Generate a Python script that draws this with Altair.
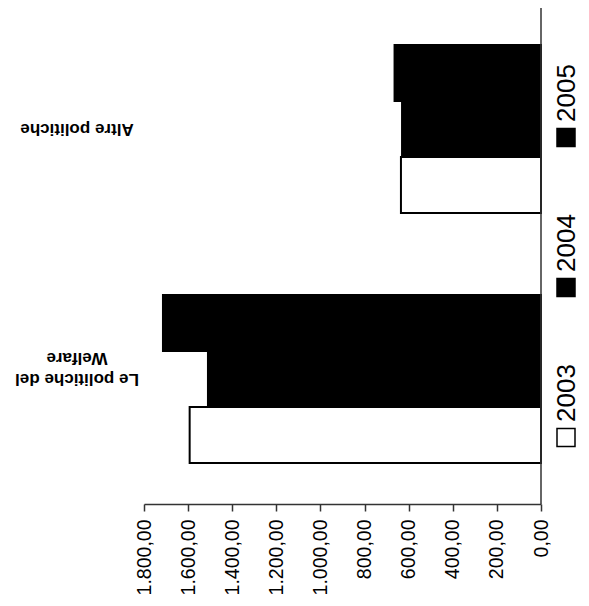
import altair as alt
import pandas as pd

categories = ["Altre politiche", "Le politiche del Welfare"]
category_labels = ["Altre politiche", "Le politiche del|Welfare"]
years = ["2003", "2004", "2005"]
values_2003 = [635, 1593]
values_2004 = [630, 1510]
values_2005 = [664, 1714]
tick_values = [0, 200, 400, 600, 800, 1000, 1200, 1400, 1600, 1800]

rows = []
for i, c in enumerate(categories):
    for yr, vals in zip(years, [values_2003, values_2004, values_2005]):
        rows.append({"category": c, "year": yr, "value": vals[i]})
df = pd.DataFrame(rows)
lab_df = pd.DataFrame({"category": categories, "label": category_labels})
leg_df = pd.DataFrame({"year": years, "yr": [int(y) for y in years]})

color_scale = alt.Scale(domain=years, range=["#ffffff", "#000000", "#000000"])
y_scale = alt.Scale(domain=categories, paddingInner=0.328, paddingOuter=0.164)

label_expr = ("replace(replace(replace(format(datum.value, ',.2f'), ',', '#'), '.', ','), '#', '.')")

bars = alt.Chart(df).mark_bar(stroke="black", strokeWidth=2).encode(
    x=alt.X(
        "value:Q",
        scale=alt.Scale(domain=[0, 1800], reverse=True, nice=False),
        axis=alt.Axis(
            values=tick_values, labelExpr=label_expr, title=None, grid=False,
            labelAngle=270, labelFont="Liberation Sans", labelFontSize=19.5,
            labelColor="black", labelPadding=8, tickSize=7, tickColor="#333",
            tickWidth=1.5, domainColor="#333", domainWidth=1.5,
        ),
    ),
    y=alt.Y("category:N", scale=y_scale, axis=None),
    yOffset=alt.YOffset("year:N", scale=alt.Scale(domain=["2005", "2004", "2003"], paddingInner=0, paddingOuter=0)),
    color=alt.Color("year:N", scale=color_scale, legend=None),
)

zero_rule = alt.Chart(pd.DataFrame({"v": [0]})).mark_rule(color="#333", strokeWidth=1.5).encode(
    x=alt.datum(0)
)

labels = alt.Chart(lab_df).mark_text(
    angle=180, align="center", baseline="middle", font="Liberation Sans",
    fontSize=17, fontWeight="bold", lineBreak="|", lineHeight=21, color="black",
).encode(
    x=alt.value(-67),
    y=alt.Y("category:N", scale=y_scale, axis=None),
    text="label:N",
)

leg_y = alt.Y("yr:Q", scale=alt.Scale(domain=[2003, 2005], range=[433.5, 133.5]), axis=None)

leg_sq = alt.Chart(leg_df).mark_square(size=324, stroke="black", strokeWidth=1.5, opacity=1, filled=True).encode(
    x=alt.value(422),
    y=leg_y,
    color=alt.Color("year:N", scale=color_scale, legend=None),
)

leg_txt = alt.Chart(leg_df).mark_text(
    angle=270, align="left", baseline="alphabetic", dx=15.5,
    font="Liberation Sans", fontSize=26, color="black",
).encode(
    x=alt.value(431),
    y=leg_y,
    text="year:N",
)

chart = alt.layer(
    alt.layer(bars, zero_rule, labels),
    alt.layer(leg_sq, leg_txt),
).resolve_scale(y="independent").properties(
    width=397,
    height=500,
    padding={"left": 136, "top": -4, "right": 40, "bottom": 90},
    autosize=alt.AutoSizeParams(type="none"),
    background="white",
).configure_view(stroke=None)

chart.save("out.html", embed_options={"renderer": "svg", "actions": False})
